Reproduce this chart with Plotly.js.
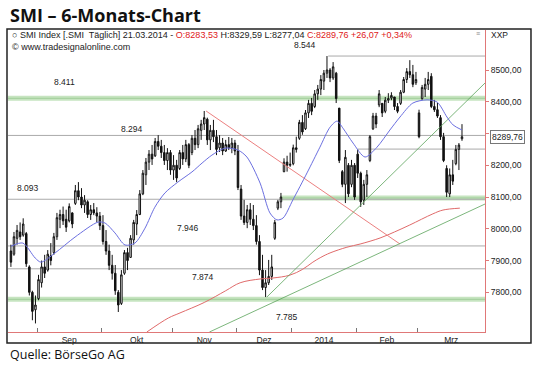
<!DOCTYPE html>
<html><head><meta charset="utf-8">
<script src="https://cdn.plot.ly/plotly-3.0.1.min.js"></script>
<style>html,body{margin:0;padding:0;background:#fff}#c{width:540px;height:367px}</style>
</head><body><div id="c"></div>
<script>
// Daily bars, index 0 = 20.08.2013 ... index 147 = 21.03.2014
const opens  = [7930,7920,7970,7990,7980,7985,7880,7800,7745,7780,7830,7880,7870,7915,7925,7975,8030,8045,8030,8025,8050,8080,8120,8100,8075,8085,8045,8060,8050,8040,
8010,7960,7930,7885,7860,7800,7765,7860,7925,7910,7965,8015,8045,8110,8170,8210,8235,8230,8275,8260,8240,8215,8240,8185,8200,8190,8240,8220,8265,8240,
8285,8265,8310,8330,8345,8280,8310,8290,8255,8270,8245,8265,8255,8270,8245,8125,8040,8020,8060,8030,8010,7960,7870,7815,7830,7850,7970,8065,8085,8180,
8210,8200,8205,8255,8285,8335,8315,8365,8395,8385,8425,8440,8465,8490,8500,8475,8490,8380,8180,8140,8200,8140,8200,8235,8175,8090,8140,8215,8315,8355,
8390,8395,8370,8405,8412,8415,8385,8395,8430,8470,8495,8485,8460,8365,8410,8440,8455,8480,8385,8375,8350,8290,8190,8110,8170,8205,8250,8283.53];
const highs  = [7950,7990,8012,8020,8033,7990,7885,7805,7790,7855,7900,7918,7933,7955,7987,8050,8060,8070,8060,8080,8052,8138,8147,8128,8106,8090,8075,8081,8068,8053,
8043,7996,7950,7918,7886,7807,7870,7933,7940,7980,8028,8059,8122,8185,8223,8248,8264,8286,8295,8280,8264,8254,8248,8232,8217,8248,8264,8280,8270,8295,
8311,8327,8343,8371,8350,8327,8343,8311,8295,8286,8280,8289,8286,8280,8264,8138,8091,8075,8081,8075,8043,7980,7918,7870,7902,7918,8028,8091,8113,8222,
8230,8240,8265,8290,8343,8358,8374,8406,8412,8437,8453,8484,8500,8544,8506,8525,8494,8380,8185,8248,8207,8217,8207,8250,8180,8154,8185,8295,8365,8365,
8437,8396,8415,8427,8430,8415,8396,8437,8478,8506,8531,8516,8494,8375,8453,8475,8494,8490,8406,8396,8358,8302,8200,8190,8217,8264,8270,8329.59];
const lows   = [7880,7915,7950,7965,7975,7880,7790,7712,7702,7775,7815,7845,7865,7885,7918,7965,8002,8012,7990,8020,8002,8075,8090,8065,8050,8034,8028,8043,8021,7996,
7950,7918,7870,7840,7792,7738,7760,7855,7870,7908,7950,7980,8043,8106,8138,8185,8201,8226,8248,8223,8201,8185,8170,8154,8147,8185,8201,8210,8191,8232,
8248,8254,8280,8311,8264,8248,8273,8232,8242,8232,8242,8248,8238,8232,8122,8028,8012,8002,8012,7996,7950,7854,7807,7785,7823,7839,7965,8059,8065,8178,
8180,8195,8200,8240,8280,8296,8311,8349,8358,8380,8406,8421,8437,8475,8462,8469,8396,8207,8131,8081,8100,8131,8091,8160,8069,8075,8100,8210,8311,8317,
8383,8352,8364,8396,8405,8374,8364,8390,8427,8459,8475,8446,8453,8285,8406,8415,8437,8380,8368,8349,8280,8210,8100,8100,8138,8200,8185,8277.04];
const closes = [7895,7975,7995,7975,8015,7890,7800,7740,7760,7840,7880,7860,7920,7900,7975,8035,8045,8025,8005,8070,8015,8120,8100,8075,8090,8045,8060,8050,8040,8010,
7960,7930,7885,7860,7805,7760,7855,7925,7900,7970,8020,8045,8110,8175,8210,8235,8220,8275,8260,8240,8215,8240,8185,8200,8160,8240,8220,8265,8200,8285,
8265,8315,8330,8350,8280,8310,8290,8250,8270,8245,8265,8255,8270,8245,8130,8040,8020,8060,8030,8010,7960,7870,7815,7830,7850,7880,8020,8085,8100,8210,
8200,8203,8255,8250,8335,8305,8365,8395,8370,8425,8440,8470,8490,8500,8475,8510,8410,8215,8140,8225,8110,8200,8100,8175,8085,8140,8170,8290,8355,8330,
8425,8365,8405,8410,8420,8385,8370,8430,8470,8495,8485,8455,8470,8290,8445,8455,8470,8385,8375,8355,8290,8215,8115,8170,8150,8250,8263.69,8289.76];

// moving averages (bar index, value)
const maBlueX = [0,3.9,7.9,9.8,14.4,20.9,28.4,30.7,33.9,37.2,40.4,43.7,46.9,50.2,54.4,59,62.3,65.5,69.8,74,76.9,81.2,84.4,86.7,88.7,91.9,96.5,100.7,104,106.3,108.2,111.5,115.4,119.3,123.5,126.8,131,135.6,138.9,142.1,144.1,147];
const maBlueY = [7945,7955,7908,7895,7924,7974,8021,8018,7987,7949,7955,8002,8068,8113,8147,8179,8207,8232,8254,8248,8226,8144,8050,8028,8034,8091,8176,8257,8320,8339,8317,8270,8226,8257,8311,8352,8396,8406,8399,8352,8327,8311];
const maRedX = [44.3,51.3,55.1,63,70,74.7,81.2,85.4,90.9,95,98.4,101,104,109.5,113.8,120.3,125,130,137.5,140.8,146.3];
const maRedY = [7675,7719,7735,7768,7805,7830,7842,7845,7854,7872,7895,7910,7924,7942,7952,7971,7990,8012,8047,8059,8065];

// trend lines
const redTrendX = [63.6,126.8],  redTrendY = [8371,7952];
const greenSteepX = [83.4,154.5], greenSteepY = [7785,8459];
const greenFlatX = [64.7,154.5],  greenFlatY = [7675,8078];

// horizontal levels
const levelVals   = [8544, 8294, 8251, 8093, 7946, 7874];
const levelFrom   = [103.4, -0.95, 113, -0.95, -0.95, -0.95];
const bandVals    = [8411, 8097, 7778];
const bandFrom    = [-0.95, 88, -0.95];
const levelLabels = ['8.544','8.411','8.294','8.093','7.946','7.874','7.785'];
const labelX      = [95.8, 17.6, 39.5, 5.6, 57.7, 62.6, 90];
const labelY      = [8579, 8462, 8314, 8128, 8002, 7848, 7722];

// axes
const monthNames  = ['Sep','Okt','Nov','Dez','2014','Feb','Mrz'];
const monthCenter = [19, 41, 63, 82.5, 102, 122.5, 143.5];
const monthStart  = [8.5, 29.5, 52.5, 73.5, 91.5, 112.5, 132.5];
const yTicks      = [7800,7900,8000,8100,8200,8300,8400,8500];
const yTickText   = yTicks.map(v => v.toFixed(2).replace('.', ','));
const lastClose   = 8289.76;

const xMin = -0.95, xMax = 154.5;
const idx = closes.map((_, i) => i);
const F = 'Liberation Sans, Arial, sans-serif';

const traces = [
  {type:'scatter', mode:'lines', x:maRedX, y:maRedY, line:{color:'#e06a6a', width:1, shape:'spline'}, hoverinfo:'skip'},
  {type:'scatter', mode:'lines', x:redTrendX, y:redTrendY, line:{color:'#ec8080', width:1}, hoverinfo:'skip'},
  {type:'scatter', mode:'lines', x:greenSteepX, y:greenSteepY, line:{color:'#5ba35b', width:0.8}, hoverinfo:'skip'},
  {type:'scatter', mode:'lines', x:greenFlatX, y:greenFlatY, line:{color:'#5ba35b', width:0.8}, hoverinfo:'skip'},
  {type:'candlestick', x:idx, open:opens, high:highs, low:lows, close:closes,
   increasing:{line:{color:'#111', width:1}, fillcolor:'#ffffff'},
   decreasing:{line:{color:'#111', width:1}, fillcolor:'#111'},
   whiskerwidth:0, hoverinfo:'skip'},
  {type:'scatter', mode:'lines', x:maBlueX, y:maBlueY, line:{color:'#6b6fe0', width:1, shape:'spline', smoothing:0.8}, hoverinfo:'skip'}
];

const shapes = [];
bandVals.forEach((v, k) => {
  shapes.push({type:'line', xref:'x', yref:'y', x0:bandFrom[k], x1:xMax, y0:v, y1:v, layer:'below', line:{color:'#c6e4c0', width:5}});
  shapes.push({type:'line', xref:'x', yref:'y', x0:bandFrom[k], x1:xMax, y0:v, y1:v, layer:'below', line:{color:'#9fcd98', width:1}});
});
levelVals.forEach((v, k) => {
  shapes.push({type:'line', xref:'x', yref:'y', x0:levelFrom[k], x1:xMax, y0:v, y1:v, layer:'below', line:{color:'#aaaaaa', width:1}});
});
// outer frame
shapes.push({type:'rect', xref:'paper', yref:'paper', x0:-0.0021, x1:1.0964, y0:-0.0364, y1:1.0033, line:{color:'#222', width:1.5}, fillcolor:'rgba(0,0,0,0)'});

const annotations = [];
levelLabels.forEach((t, k) => annotations.push({x:labelX[k], y:labelY[k], xref:'x', yref:'y', text:t, showarrow:false, font:{family:F, size:8.5, color:'#222'}}));
annotations.push({xref:'paper', yref:'paper', x:0, y:1.05, xanchor:'left', yanchor:'middle', text:'SMI – 6-Monats-Chart', showarrow:false,
  font:{family:'Open Sans, sans-serif', size:18, weight:700, color:'#111'}});
annotations.push({xref:'paper', yref:'paper', x:0, y:-0.076, xanchor:'left', yanchor:'middle', text:'Quelle: BörseGo AG', showarrow:false,
  font:{family:'Open Sans, sans-serif', size:12.5, color:'#111'}});
annotations.push({xref:'paper', yref:'paper', x:0.004, y:0.964, xanchor:'left', yanchor:'middle', align:'left', showarrow:false,
  text:'○ SMI Index [.SMI  Täglich] 21.03.2014 - <span style="color:#e02020">O:8283,53</span> H:8329,59 L:8277,04 <span style="color:#e02020">C:8289,76 +26,07 +0,34%</span><br>© www.tradesignalonline.com',
  font:{family:F, size:9, color:'#222'}});
annotations.push({xref:'paper', yref:'paper', x:1.008, y:0.985, xanchor:'left', yanchor:'middle', showarrow:false,
  text:'XXP', font:{family:F, size:8.5, color:'#222'}});
annotations.push({xref:'paper', yref:'paper', x:0.985, y:0.987, xanchor:'center', yanchor:'middle', showarrow:false,
  text:'≡', font:{family:F, size:7, color:'#888'}});
annotations.push({xref:'paper', yref:'y', x:1.01, y:lastClose, xanchor:'left', yanchor:'middle', showarrow:false,
  text:String(lastClose.toFixed(2)).replace('.', ','), font:{family:F, size:8.5, color:'#222'},
  bgcolor:'#ffffff', bordercolor:'#777', borderwidth:1, borderpad:1});

const layout = {
  width:540, height:367, margin:{l:8, r:55, t:30, b:35},
  paper_bgcolor:'#fff', plot_bgcolor:'#fff', showlegend:false,
  xaxis:{range:[xMin, xMax], type:'linear', rangeslider:{visible:false}, showgrid:false, zeroline:false,
    showline:true, linecolor:'#e07878', linewidth:1,
    tickmode:'array', tickvals:monthCenter, ticktext:monthNames, ticks:'',
    tickfont:{family:F, size:8.5, color:'#222'},
    minor:{tickmode:'array', tickvals:monthStart, ticks:'inside', ticklen:4, tickcolor:'#777', showgrid:false}},
  yaxis:{range:[7675, 8626], side:'right', showgrid:false, zeroline:false,
    showline:true, linecolor:'#e07878', linewidth:1,
    tickmode:'array', tickvals:yTicks, ticktext:yTickText, ticks:'outside', ticklen:3, tickcolor:'#e07878',
    tickfont:{family:F, size:8.5, color:'#222'}},
  shapes:shapes, annotations:annotations
};
Plotly.newPlot('c', traces, layout, {staticPlot:true, displayModeBar:false});
</script></body></html>
